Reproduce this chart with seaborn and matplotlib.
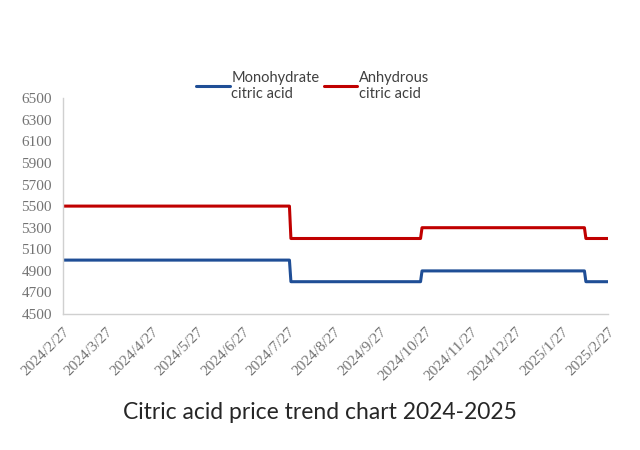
import pandas as pd
import seaborn as sns
import matplotlib.pyplot as plt
import matplotlib.dates as mdates

# change points of the step series (two consecutive days per change)
dates = ['2024-02-27', '2024-07-28', '2024-07-29', '2024-10-24', '2024-10-25',
         '2025-02-11', '2025-02-12', '2025-02-27']
mono = [5000, 5000, 4800, 4800, 4900, 4900, 4800, 4800]
anhy = [5500, 5500, 5200, 5200, 5300, 5300, 5200, 5200]

tick_dates = ['2024-02-27', '2024-03-27', '2024-04-27', '2024-05-27', '2024-06-27',
              '2024-07-27', '2024-08-27', '2024-09-27', '2024-10-27', '2024-11-27',
              '2024-12-27', '2025-01-27', '2025-02-27']
yticks = list(range(4500, 6501, 200))

df = pd.DataFrame({'date': pd.to_datetime(dates),
                   'Monohydrate\ncitric acid': mono,
                   'Anhydrous\ncitric acid': anhy})
long = df.melt(id_vars='date', var_name='type', value_name='price')

sns.set_style('white')
plt.rcParams['font.family'] = ['Lato', 'DejaVu Sans']

fig = plt.figure(figsize=(6.4, 4.5), dpi=100)
ax = fig.add_axes([0.0984, 0.302, 0.852, 0.48])

sns.lineplot(data=long, x='date', y='price', hue='type',
             palette=['#1F4E96', '#C00000'], linewidth=2.2, ax=ax)

ax.set_xlim(pd.Timestamp(tick_dates[0]), pd.Timestamp(tick_dates[-1]))
ax.set_ylim(4500, 6500)
ax.set_yticks(yticks)
ax.set_xticks(pd.to_datetime(tick_dates))
ax.xaxis.set_major_formatter(mdates.DateFormatter('%Y/%-m/%d'))
ax.set_xlabel('')
ax.set_ylabel('')

for s in ['top', 'right']:
    ax.spines[s].set_visible(False)
for s in ['left', 'bottom']:
    ax.spines[s].set_color('#D0D0D0')
    ax.spines[s].set_linewidth(1.0)

ax.tick_params(axis='both', direction='out', length=5, width=1, color='#D0D0D0',
               labelcolor='#737373', labelsize=11, pad=3)
for lab in ax.get_yticklabels():
    lab.set_fontfamily('Liberation Serif')
for lab in ax.get_xticklabels():
    lab.set_fontfamily('Liberation Serif')
    lab.set_rotation(45)
    lab.set_ha('right')
    lab.set_rotation_mode('anchor')

leg = ax.legend(loc='lower center', bbox_to_anchor=(0.458, 0.96), ncol=2, frameon=False,
                fontsize=10.5, handlelength=2.3, handletextpad=0.1, columnspacing=0.3,
                labelcolor='#404040', borderaxespad=0)

fig.text(0.5, 0.0844, 'Citric acid price trend chart 2024-2025', ha='center', va='center',
         fontsize=16.5, color='#262626')

fig.savefig('out.png', dpi=100)
